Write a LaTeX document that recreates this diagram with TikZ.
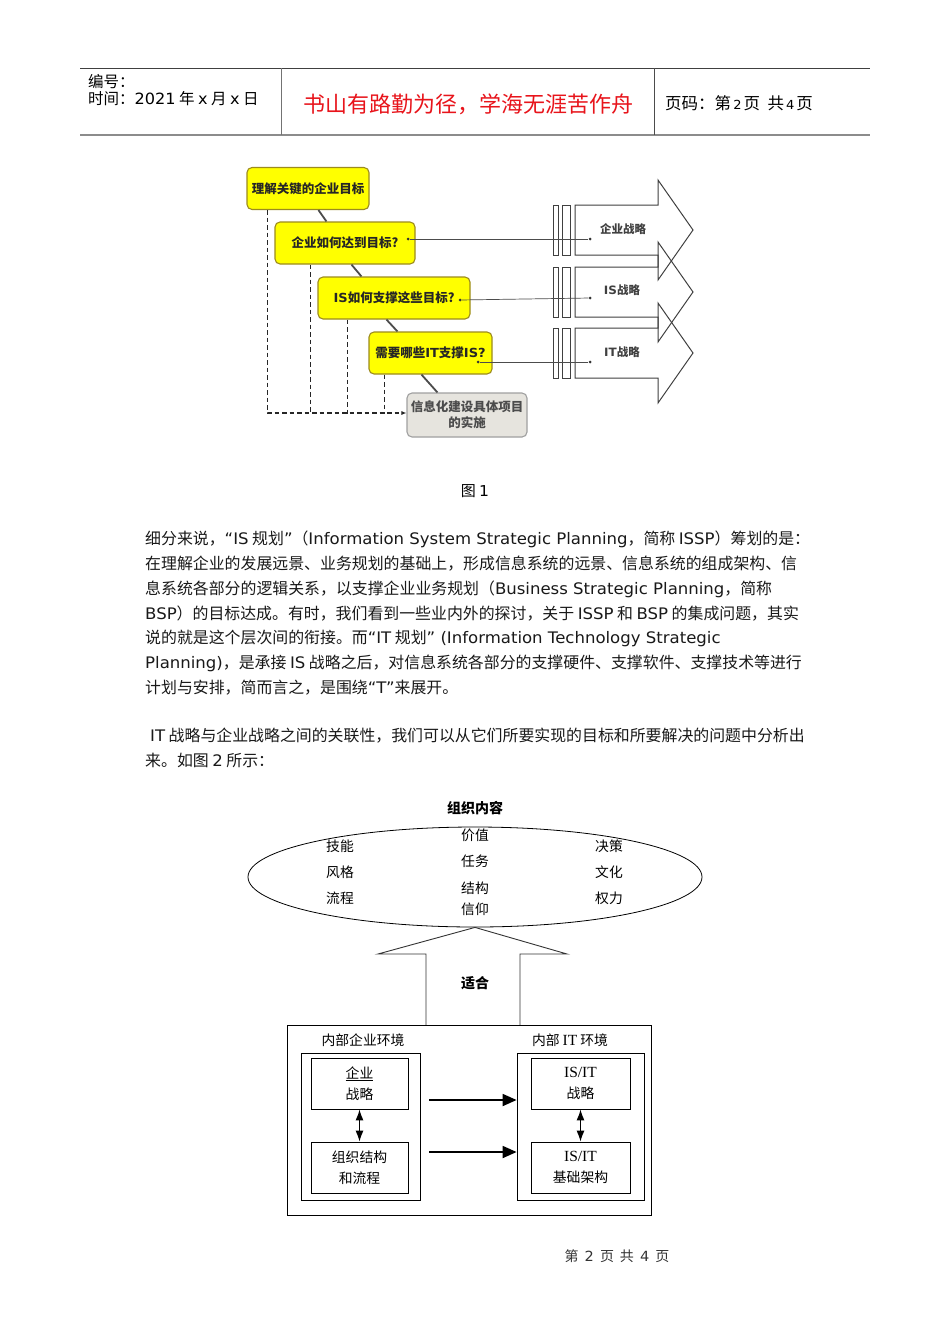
\documentclass[tikz,border=0pt]{standalone}
\usepackage{fontspec}
\setmainfont{Noto Sans CJK SC}
\newfontfamily\lat{DejaVu Sans}[FakeStretch=1.04]
\newfontfamily\ser{Liberation Serif}
\usepackage{xcolor}
\usetikzlibrary{shapes.geometric, arrows.meta, positioning}

\definecolor{mottored}{HTML}{E8141B}
\definecolor{goalfill}{HTML}{FFFF00}
\definecolor{goalline}{HTML}{9C8B1E}
\definecolor{taskfill}{HTML}{E6E4DE}
\definecolor{taskline}{HTML}{A0A0A0}

\begin{document}
\begin{tikzpicture}[
  x=1pt, y=-1pt,
  body/.style={anchor=base west, inner sep=0pt, text=black!90, font=\fontsize{15.9}{18}\selectfont},
  hdr/.style={anchor=base west, inner sep=0pt, font=\fontsize{15.5}{18}\selectfont},
  goal/.style={rectangle, draw=goalline, fill=goalfill, line width=1.1pt, rounded corners=5pt, minimum height=42pt, inner sep=0pt, text=black!85, font=\fontsize{12.5}{15}\selectfont\bfseries},
  task/.style={goal, draw=taskline, fill=taskfill, align=center, text=black!70, font=\fontsize{12.5}{16}\selectfont\bfseries},
  dot/.style={circle, fill=black!80, inner sep=0pt, minimum size=3pt},
  step_link/.style={line width=1.8pt, draw=black!70},
  dash_link/.style={line width=1.4pt, draw=black!85, dash pattern=on 4.5pt off 3pt},
  link/.style={draw=black!70, line width=0.7pt},
  strat/.style={draw=black!75, line width=1pt},
  stratlabel/.style={font=\fontsize{11.5}{14}\selectfont\bfseries, text=black!75},
  item/.style={font=\fontsize{13.8}{16}\selectfont},
  unit/.style={rectangle, draw=black, line width=0.8pt, inner sep=0pt, align=center, font=\fontsize{13.8}{21}\selectfont},
  flow/.style={line width=1.8pt, -{Triangle[length=14pt, width=12pt]}},
  pair_arrow/.style={line width=1.2pt, {Latex[length=11pt, width=8pt]}-{Latex[length=11pt, width=8pt]}}
]
\useasboundingbox (0,0) rectangle (950,1344);
\fill[white] (0,0) rectangle (950,1344);

% Page header
\draw[line width=1pt, draw=black!75] (80,68) -- (870,68);
\draw[line width=2pt, draw=black!45] (80,135) -- (870,135);
\draw[line width=1pt, draw=black!55] (281,68) -- (281,135);
\draw[line width=1pt, draw=black!70] (654,68) -- (654,135);
\node (hdrno) [hdr] at (88,87) {编号：};
\node (hdrdate) [hdr] at (88,104) {时间：{\lat 2021} 年 {\lat x} 月 {\lat x} 日};
\node (motto) [text=mottored, font=\fontsize{22}{24}\selectfont] at (468,104) {书山有路勤为径，学海无涯苦作舟};
\node (pageno) [hdr, font=\fontsize{16.5}{18}\selectfont] at (665,109) {页码：第{\lat\fontsize{12.5}{14}\selectfont\,2\,}页 \ 共{\lat\fontsize{12.5}{14}\selectfont\,4\,}页};

% Figure 1: planning steps
\node (g1) [goal, minimum width=122pt] at (308,188.5) {理解关键的企业目标};
\node (g2) [goal, minimum width=140pt] at (345,243) {企业如何达到目标?};
\node (g3) [goal, minimum width=152pt] at (394,298) {{\lat IS}如何支撑这些目标?};
\node (g4) [goal, minimum width=123pt] at (430.5,353) {需要哪些{\lat IT}支撑{\lat IS?}};
\node (g5) [task, minimum width=120pt, minimum height=44pt] at (467,415) {信息化建设具体项目\\的实施};

\draw [step_link] ([xshift=72pt]g1.south west) -- ([xshift=52pt]g2.north west);
\draw [step_link] ([xshift=77pt]g2.south west) -- ([xshift=44pt]g3.north west);
\draw [step_link] ([xshift=69pt]g3.south west) -- ([xshift=29pt]g4.north west);
\draw [step_link] ([xshift=53pt]g4.south west) -- ([xshift=31pt]g5.north west);

% Dashed feedback to the projects
\draw [dash_link, -{Latex[length=5pt, width=4pt]}] ([xshift=21pt]g1.south west) |- ([yshift=2pt]g5.west);
\draw [dash_link] ([xshift=36pt]g2.south west) -- +(0,149);
\draw [dash_link] ([xshift=30pt]g3.south west) -- +(0,94);
\draw [dash_link] ([xshift=16pt]g4.south west) -- +(0,39);

% Strategy arrows
\draw [strat] (575,205) -- (658,205) -- (658,180) -- (693,230) -- (658,280) -- (658,255) -- (575,255) -- cycle;
\draw [strat] (553,205) rectangle (558,255);
\draw [strat] (562,205) rectangle (570,255);
\draw [strat] (575,267) -- (658,267) -- (658,242) -- (693,292) -- (658,342) -- (658,317) -- (575,317) -- cycle;
\draw [strat] (553,267) rectangle (558,317);
\draw [strat] (562,267) rectangle (570,317);
\draw [strat] (575,328) -- (658,328) -- (658,303) -- (693,353) -- (658,403) -- (658,378) -- (575,378) -- cycle;
\draw [strat] (553,328) rectangle (558,378);
\draw [strat] (562,328) rectangle (570,378);

\node (s1) [stratlabel] at (623,229) {企业战略};
\node (s2) [stratlabel] at (622,290) {{\lat IS}战略};
\node (s3) [stratlabel] at (622,352) {{\lat IT}战略};

\node (d2) [dot] at (408,239) {};
\node (d3) [dot] at (460,300) {};
\node (d4) [dot] at (478,362) {};
\node (e1) [dot] at (590,239) {};
\node (e2) [dot] at (590,298) {};
\node (e3) [dot] at (590,362) {};
\draw [link] (d2) -- (e1);
\draw [link] (d3) -- (e2);
\draw [link] (d4) -- (e3);

\node (fig1cap) [font=\fontsize{15}{18}\selectfont] at (475,491) {图 {\lat 1}};

% Body text
\node (p1) [body] at (145,544) {细分来说，{\lat “IS} 规划{\lat ”}（{\lat Information System Strategic Planning}，简称 {\lat ISSP}）筹划的是：};
\node (p2) [body] at (145,569) {在理解企业的发展远景、业务规划的基础上，形成信息系统的远景、信息系统的组成架构、信};
\node (p3) [body] at (145,594) {息系统各部分的逻辑关系，以支撑企业业务规划（{\lat Business Strategic Planning}，简称};
\node (p4) [body] at (145,619) {{\lat BSP}）的目标达成。有时，我们看到一些业内外的探讨，关于 {\lat ISSP} 和 {\lat BSP} 的集成问题，其实};
\node (p5) [body] at (145,643) {说的就是这个层次间的衔接。而{\lat “IT} 规划{\lat ” (Information Technology Strategic}};
\node (p6) [body] at (145,668) {{\lat Planning)}，是承接 {\lat IS} 战略之后，对信息系统各部分的支撑硬件、支撑软件、支撑技术等进行};
\node (p7) [body] at (145,693) {计划与安排，简而言之，是围绕{\lat “T”}来展开。};
\node (p8) [body] at (150,741) {{\lat IT} 战略与企业战略之间的关联性，我们可以从它们所要实现的目标和所要解决的问题中分析出};
\node (p9) [body] at (145,766) {来。如图 {\lat 2} 所示：};

% Figure 2: organisation fit
\node (orgtitle) [font=\fontsize{14}{16}\selectfont\bfseries] at (475,808) {组织内容};
\node (org) [draw, ellipse, line width=0.8pt, minimum width=454pt, minimum height=100pt] at (475,877) {};
\node (l1) [item] at (340,846) {技能};
\node (l2) [item] at (340,872) {风格};
\node (l3) [item] at (340,898) {流程};
\node (c1) [item] at (475,835) {价值};
\node (c2) [item] at (475,861) {任务};
\node (c3) [item] at (475,888) {结构};
\node (c4) [item] at (475,909) {信仰};
\node (r1) [item] at (609,846) {决策};
\node (r2) [item] at (609,872) {文化};
\node (r3) [item] at (609,898) {权力};

\draw [line width=0.9pt, draw=black!80] (426,1025) -- (426,954) -- (378,954) -- (org.south) -- (567,954) -- (520,954) -- (520,1025);
\node (fit) [font=\fontsize{14}{16}\selectfont\bfseries] at (475,983) {适合};

\node (env) [unit, minimum width=364pt, minimum height=190pt] at (469,1120) {};
\node (envL) [item] at (363,1040) {内部企业环境};
\node (envR) [item] at (570,1040) {内部 {\ser\fontsize{15.5}{16}\selectfont IT} 环境};
\node (inL) [unit, minimum width=119pt, minimum height=147pt] at (360.5,1126.5) {};
\node (inR) [unit, minimum width=127pt, minimum height=147pt] at (580.5,1126.5) {};
\node (lt) [unit, minimum width=97pt, minimum height=51pt] at (359.5,1083.5) {\underline{企业}\\战略};
\node (lb) [unit, minimum width=97pt, minimum height=51pt] at (359.5,1167.5) {组织结构\\和流程};
\node (rt) [unit, minimum width=99pt, minimum height=51pt] at (580.5,1083.5) {{\ser\fontsize{15.5}{16}\selectfont IS/IT}\\战略};
\node (rb) [unit, minimum width=99pt, minimum height=51pt] at (580.5,1167.5) {{\ser\fontsize{15.5}{16}\selectfont IS/IT}\\基础架构};

\draw [pair_arrow] (lt) -- (lb);
\draw [pair_arrow] (rt) -- (rb);
\coordinate (f1) at (429,1100);
\coordinate (f2) at (429,1152);
\draw [flow] (f1) -- (f1 -| inR.west);
\draw [flow] (f2) -- (f2 -| inR.west);

% Page footer
\node (footer) [font=\fontsize{14}{16}\selectfont, text=black!80] at (617,1256) {第\hspace{6pt}{\lat 2}\hspace{6pt}页\hspace{6pt}共\hspace{6pt}{\lat 4}\hspace{6pt}页};
\end{tikzpicture}
\end{document}
